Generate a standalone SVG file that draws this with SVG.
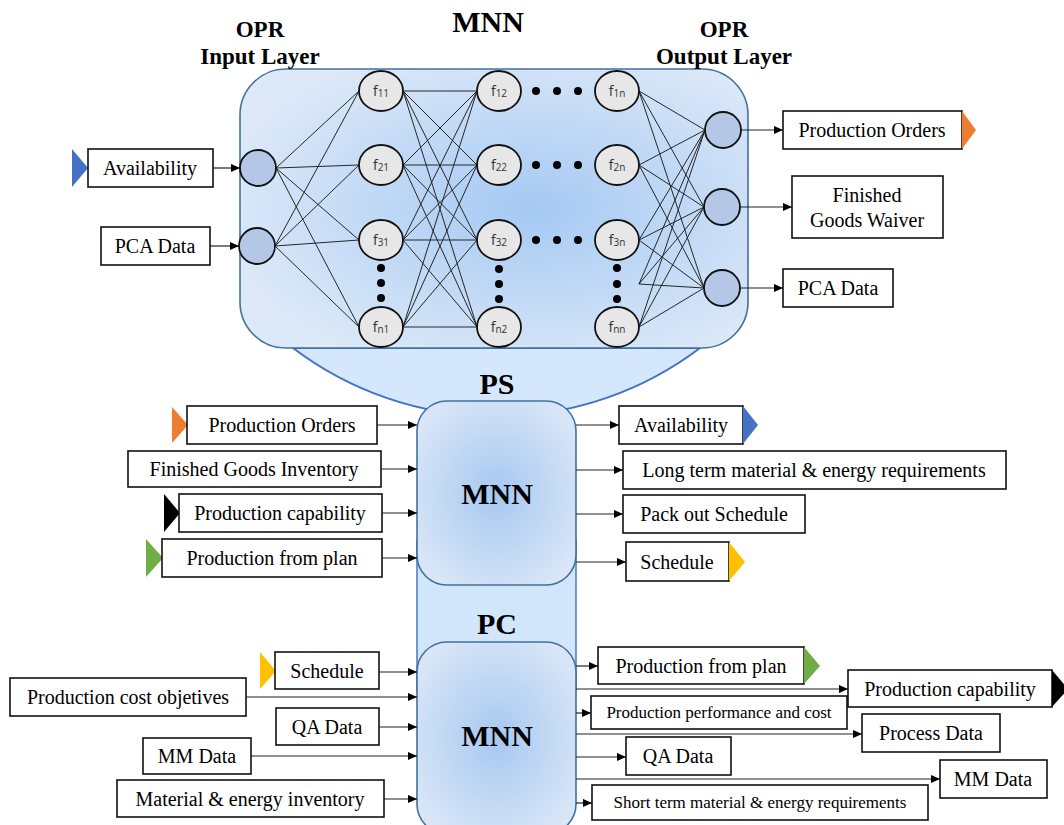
<svg xmlns="http://www.w3.org/2000/svg" width="1064" height="825" viewBox="0 0 1064 825">
  <defs>
    <style>
      .title { font-family: "Liberation Serif", "Times New Roman", serif; font-weight: bold; fill: #000; text-anchor: middle; }
      .lbl { font-family: "Liberation Serif", "Times New Roman", serif; font-size: 20px; fill: #000; text-anchor: middle; }
      .lbl-s { font-family: "Liberation Serif", "Times New Roman", serif; font-size: 17px; fill: #000; text-anchor: middle; }
      .box { fill: #fff; stroke: #111; stroke-width: 1.6; }
      .neuron { fill: #e7e7e7; stroke: #111; stroke-width: 1.8; }
      .io { fill: #b4c7e7; stroke: #111; stroke-width: 1.8; }
      .fl { font-family: "Open Sans", "Liberation Sans", sans-serif; font-size: 14px; fill: #333; text-anchor: middle; }
      .sub { font-size: 10px; }
      .dot { fill: #000; }
      .net line { stroke: #262626; stroke-width: 1; }
      .flow line { stroke: #222; stroke-width: 1.2; marker-end: url(#arr); }
    </style>
    <radialGradient id="gTop" cx="0.57" cy="0.5" r="0.62">
      <stop offset="0" stop-color="#a5c9f3"/>
      <stop offset="1" stop-color="#dde9f8"/>
    </radialGradient>
    <radialGradient id="gBox" cx="0.5" cy="0.5" r="0.6">
      <stop offset="0" stop-color="#a6c8f1"/>
      <stop offset="1" stop-color="#d9e6f7"/>
    </radialGradient>
    <marker id="arr" viewBox="0 0 10 10" refX="10" refY="5" markerWidth="9" markerHeight="9" markerUnits="userSpaceOnUse" orient="auto">
      <path d="M0,0.5 L10,5 L0,9.5 z" fill="#000"/>
    </marker>
  </defs>

  <rect width="1064" height="825" fill="#fff"/>

  <!-- container shapes -->
  <g id="containers">
    <path id="ps-bowl" d="M293,348 A337,337 0 0 0 700,348 Z" fill="#d4e7fc" stroke="#4472c4" stroke-width="2"/>
    <rect id="ps-pc-link" x="417" y="540" width="159" height="150" fill="#d2e6fb" stroke="#4a78c2" stroke-width="1.5"/>
    <rect id="opr-frame" x="240" y="69" width="508" height="279" rx="46" ry="46" fill="url(#gTop)" stroke="#41719c" stroke-width="1.6"/>
  </g>

  <!-- titles -->
  <g id="titles">
    <text class="title" x="260" y="37" font-size="23">OPR</text>
    <text class="title" x="260" y="64" font-size="23">Input Layer</text>
    <text class="title" x="488" y="32" font-size="30">MNN</text>
    <text class="title" x="724" y="37" font-size="23">OPR</text>
    <text class="title" x="724" y="64" font-size="23">Output Layer</text>
    <text class="title" x="497" y="394" font-size="30">PS</text>
    <text class="title" x="497" y="634" font-size="30">PC</text>
  </g>

  <!-- scheduling and control blocks -->
  <g id="ps-block">
    <rect x="417" y="401" width="159" height="184" rx="30" ry="30" fill="url(#gBox)" stroke="#41719c" stroke-width="1.6"/>
    <text class="title" x="497" y="504" font-size="30">MNN</text>
  </g>
  <g id="pc-block">
    <rect x="417" y="642" width="159" height="192" rx="30" ry="30" fill="url(#gBox)" stroke="#41719c" stroke-width="1.6"/>
    <text class="title" x="497" y="746" font-size="30">MNN</text>
  </g>

  <!-- connectors -->
  <g id="connectors">
    <g class="net">
      <!-- input layer to first hidden column -->
      <line x1="276" y1="168" x2="359" y2="91"/>
      <line x1="276" y1="168" x2="359" y2="165"/>
      <line x1="276" y1="168" x2="359" y2="240"/>
      <line x1="276" y1="168" x2="359" y2="327"/>
      <line x1="275" y1="246" x2="359" y2="91"/>
      <line x1="275" y1="246" x2="359" y2="165"/>
      <line x1="275" y1="246" x2="359" y2="240"/>
      <line x1="275" y1="246" x2="359" y2="327"/>
      <!-- first hidden column to second -->
      <line x1="403" y1="91" x2="477" y2="91"/>
      <line x1="403" y1="91" x2="477" y2="165"/>
      <line x1="403" y1="91" x2="477" y2="240"/>
      <line x1="403" y1="91" x2="477" y2="327"/>
      <line x1="403" y1="165" x2="477" y2="91"/>
      <line x1="403" y1="165" x2="477" y2="165"/>
      <line x1="403" y1="165" x2="477" y2="240"/>
      <line x1="403" y1="165" x2="477" y2="327"/>
      <line x1="403" y1="240" x2="477" y2="91"/>
      <line x1="403" y1="240" x2="477" y2="165"/>
      <line x1="403" y1="240" x2="477" y2="240"/>
      <line x1="403" y1="240" x2="477" y2="327"/>
      <line x1="403" y1="327" x2="477" y2="91"/>
      <line x1="403" y1="327" x2="477" y2="165"/>
      <line x1="403" y1="327" x2="477" y2="240"/>
      <line x1="403" y1="327" x2="477" y2="327"/>
      <!-- last hidden column to output layer -->
      <line x1="639" y1="91" x2="705" y2="130"/>
      <line x1="639" y1="91" x2="704" y2="207"/>
      <line x1="639" y1="91" x2="704" y2="288"/>
      <line x1="639" y1="165" x2="705" y2="130"/>
      <line x1="639" y1="165" x2="704" y2="207"/>
      <line x1="639" y1="165" x2="704" y2="288"/>
      <line x1="639" y1="240" x2="705" y2="130"/>
      <line x1="639" y1="240" x2="704" y2="207"/>
      <line x1="639" y1="240" x2="704" y2="288"/>
      <line x1="639" y1="284" x2="705" y2="130"/>
      <line x1="639" y1="284" x2="704" y2="207"/>
      <line x1="639" y1="284" x2="704" y2="288"/>
      <line x1="639" y1="327" x2="705" y2="130"/>
      <line x1="639" y1="327" x2="704" y2="207"/>
      <line x1="639" y1="327" x2="704" y2="288"/>
    </g>
    <g class="flow">
      <!-- OPR inputs / outputs -->
      <line x1="213" y1="168" x2="240" y2="168"/>
      <line x1="210" y1="246" x2="239" y2="246"/>
      <line x1="741" y1="130" x2="783" y2="130"/>
      <line x1="740" y1="207" x2="792" y2="207"/>
      <line x1="740" y1="288" x2="783" y2="288"/>
      <!-- PS inputs -->
      <line x1="377" y1="425" x2="417" y2="425"/>
      <line x1="381" y1="469" x2="417" y2="469"/>
      <line x1="382" y1="513" x2="417" y2="513"/>
      <line x1="382" y1="558" x2="417" y2="558"/>
      <!-- PS outputs -->
      <line x1="576" y1="425" x2="619" y2="425"/>
      <line x1="576" y1="470" x2="623" y2="470"/>
      <line x1="576" y1="514" x2="623" y2="514"/>
      <line x1="576" y1="562" x2="626" y2="562"/>
      <!-- PC inputs -->
      <line x1="379" y1="672" x2="417" y2="672"/>
      <line x1="246" y1="697" x2="417" y2="697"/>
      <line x1="379" y1="727" x2="417" y2="727"/>
      <line x1="251" y1="756" x2="417" y2="756"/>
      <line x1="384" y1="799" x2="417" y2="799"/>
      <!-- PC outputs -->
      <line x1="576" y1="666" x2="598" y2="666"/>
      <line x1="576" y1="689" x2="848" y2="689"/>
      <line x1="576" y1="713" x2="591" y2="713"/>
      <line x1="576" y1="734" x2="862" y2="734"/>
      <line x1="576" y1="757" x2="626" y2="757"/>
      <line x1="576" y1="779" x2="940" y2="779"/>
      <line x1="576" y1="803" x2="592" y2="803"/>
    </g>
  </g>

  <!-- network neurons -->
  <g id="in-1"><circle class="io" cx="258" cy="168" r="18"/></g>
  <g id="in-2"><circle class="io" cx="257" cy="246" r="18"/></g>

  <g id="f11"><ellipse class="neuron" cx="381" cy="91" rx="22" ry="20"/><text class="fl" x="381" y="96">f<tspan class="sub" dy="1">11</tspan></text></g>
  <g id="f21"><ellipse class="neuron" cx="381" cy="165" rx="22" ry="20"/><text class="fl" x="381" y="170">f<tspan class="sub" dy="1">21</tspan></text></g>
  <g id="f31"><ellipse class="neuron" cx="381" cy="240" rx="22" ry="20"/><text class="fl" x="381" y="245">f<tspan class="sub" dy="1">31</tspan></text></g>
  <g id="fn1"><ellipse class="neuron" cx="381" cy="327" rx="22" ry="20"/><text class="fl" x="381" y="332">f<tspan class="sub" dy="1">n1</tspan></text></g>

  <g id="f12"><ellipse class="neuron" cx="499" cy="91" rx="22" ry="20"/><text class="fl" x="499" y="96">f<tspan class="sub" dy="1">12</tspan></text></g>
  <g id="f22"><ellipse class="neuron" cx="499" cy="165" rx="22" ry="20"/><text class="fl" x="499" y="170">f<tspan class="sub" dy="1">22</tspan></text></g>
  <g id="f32"><ellipse class="neuron" cx="499" cy="240" rx="22" ry="20"/><text class="fl" x="499" y="245">f<tspan class="sub" dy="1">32</tspan></text></g>
  <g id="fn2"><ellipse class="neuron" cx="499" cy="327" rx="22" ry="20"/><text class="fl" x="499" y="332">f<tspan class="sub" dy="1">n2</tspan></text></g>

  <g id="f1n"><ellipse class="neuron" cx="617" cy="91" rx="22" ry="20"/><text class="fl" x="617" y="96">f<tspan class="sub" dy="1">1n</tspan></text></g>
  <g id="f2n"><ellipse class="neuron" cx="617" cy="165" rx="22" ry="20"/><text class="fl" x="617" y="170">f<tspan class="sub" dy="1">2n</tspan></text></g>
  <g id="f3n"><ellipse class="neuron" cx="617" cy="240" rx="22" ry="20"/><text class="fl" x="617" y="245">f<tspan class="sub" dy="1">3n</tspan></text></g>
  <g id="fnn"><ellipse class="neuron" cx="617" cy="327" rx="22" ry="20"/><text class="fl" x="617" y="332">f<tspan class="sub" dy="1">nn</tspan></text></g>

  <g id="out-1"><circle class="io" cx="723" cy="130" r="18"/></g>
  <g id="out-2"><circle class="io" cx="722" cy="207" r="18"/></g>
  <g id="out-3"><circle class="io" cx="722" cy="288" r="18"/></g>

  <!-- ellipsis dots -->
  <g id="ellipsis-dots" class="dot">
    <circle cx="536" cy="91" r="4"/><circle cx="557" cy="91" r="4"/><circle cx="578" cy="91" r="4"/>
    <circle cx="536" cy="165" r="4"/><circle cx="557" cy="165" r="4"/><circle cx="578" cy="165" r="4"/>
    <circle cx="536" cy="240" r="4"/><circle cx="557" cy="240" r="4"/><circle cx="578" cy="240" r="4"/>
    <circle cx="381" cy="268" r="4"/><circle cx="381" cy="283" r="4"/><circle cx="381" cy="298" r="4"/>
    <circle cx="499" cy="269" r="4"/><circle cx="499" cy="284" r="4"/><circle cx="499" cy="299" r="4"/>
    <circle cx="617" cy="268" r="4"/><circle cx="617" cy="284" r="4"/><circle cx="617" cy="299" r="4"/>
  </g>

  <!-- OPR inputs -->
  <g id="opr-in-availability">
    <polygon points="72,149 88,168 72,187" fill="#4472c4"/>
    <rect class="box" x="88" y="149" width="125" height="38"/>
    <text class="lbl" x="150" y="175">Availability</text>
  </g>
  <g id="opr-in-pca">
    <rect class="box" x="101" y="227" width="109" height="38"/>
    <text class="lbl" x="155" y="253">PCA Data</text>
  </g>

  <!-- OPR outputs -->
  <g id="opr-out-orders">
    <rect class="box" x="783" y="111" width="179" height="38"/>
    <polygon points="962,111 976,130 962,149" fill="#ed7d31"/>
    <text class="lbl" x="872" y="137">Production Orders</text>
  </g>
  <g id="opr-out-waiver">
    <rect class="box" x="792" y="176" width="151" height="62"/>
    <text class="lbl" x="867" y="202">Finished</text>
    <text class="lbl" x="867" y="227">Goods Waiver</text>
  </g>
  <g id="opr-out-pca">
    <rect class="box" x="783" y="269" width="110" height="38"/>
    <text class="lbl" x="838" y="295">PCA Data</text>
  </g>

  <!-- PS inputs -->
  <g id="ps-in-orders">
    <polygon points="172,407 188,425 172,443" fill="#ed7d31"/>
    <rect class="box" x="187" y="406" width="190" height="38"/>
    <text class="lbl" x="282" y="432">Production Orders</text>
  </g>
  <g id="ps-in-fg-inventory">
    <rect class="box" x="128" y="451" width="253" height="36"/>
    <text class="lbl" x="254" y="476">Finished Goods Inventory</text>
  </g>
  <g id="ps-in-capability">
    <polygon points="164,494 180,513 164,532" fill="#000"/>
    <rect class="box" x="179" y="494" width="203" height="38"/>
    <text class="lbl" x="280" y="520">Production capability</text>
  </g>
  <g id="ps-in-plan">
    <polygon points="146,539 163,558 146,577" fill="#70ad47"/>
    <rect class="box" x="162" y="539" width="220" height="38"/>
    <text class="lbl" x="272" y="565">Production from plan</text>
  </g>

  <!-- PS outputs -->
  <g id="ps-out-availability">
    <rect class="box" x="619" y="406" width="124" height="38"/>
    <polygon points="743,406 758,425 743,444" fill="#4472c4"/>
    <text class="lbl" x="681" y="432">Availability</text>
  </g>
  <g id="ps-out-long-term">
    <rect class="box" x="623" y="451" width="383" height="38"/>
    <text class="lbl" x="814" y="477">Long term material &amp; energy requirements</text>
  </g>
  <g id="ps-out-packout">
    <rect class="box" x="623" y="495" width="182" height="38"/>
    <text class="lbl" x="714" y="521">Pack out Schedule</text>
  </g>
  <g id="ps-out-schedule">
    <rect class="box" x="626" y="542" width="103" height="39"/>
    <polygon points="729,542 745,562 729,581" fill="#ffc000"/>
    <text class="lbl" x="677" y="569">Schedule</text>
  </g>

  <!-- PC inputs -->
  <g id="pc-in-schedule">
    <polygon points="260,652 276,671 260,689" fill="#ffc000"/>
    <rect class="box" x="275" y="652" width="104" height="37"/>
    <text class="lbl" x="327" y="678">Schedule</text>
  </g>
  <g id="pc-in-cost">
    <rect class="box" x="10" y="678" width="236" height="38"/>
    <text class="lbl" x="128" y="704">Production cost objetives</text>
  </g>
  <g id="pc-in-qa">
    <rect class="box" x="276" y="708" width="103" height="37"/>
    <text class="lbl" x="327" y="734">QA Data</text>
  </g>
  <g id="pc-in-mm">
    <rect class="box" x="143" y="738" width="108" height="36"/>
    <text class="lbl" x="197" y="763">MM Data</text>
  </g>
  <g id="pc-in-inventory">
    <rect class="box" x="117" y="780" width="267" height="37"/>
    <text class="lbl" x="250" y="806">Material &amp; energy inventory</text>
  </g>

  <!-- PC outputs -->
  <g id="pc-out-plan">
    <rect class="box" x="598" y="647" width="206" height="37"/>
    <polygon points="804,647 820,666 804,684" fill="#70ad47"/>
    <text class="lbl" x="701" y="673">Production from plan</text>
  </g>
  <g id="pc-out-capability">
    <rect class="box" x="848" y="670" width="204" height="37"/>
    <polygon points="1052,670 1068,689 1052,707" fill="#000"/>
    <text class="lbl" x="950" y="696">Production capability</text>
  </g>
  <g id="pc-out-performance">
    <rect class="box" x="591" y="696" width="256" height="33"/>
    <text class="lbl-s" x="719" y="718">Production performance and cost</text>
  </g>
  <g id="pc-out-process">
    <rect class="box" x="862" y="714" width="138" height="38"/>
    <text class="lbl" x="931" y="740">Process Data</text>
  </g>
  <g id="pc-out-qa">
    <rect class="box" x="626" y="737" width="105" height="38"/>
    <text class="lbl" x="678" y="763">QA Data</text>
  </g>
  <g id="pc-out-mm">
    <rect class="box" x="940" y="760" width="107" height="38"/>
    <text class="lbl" x="993" y="786">MM Data</text>
  </g>
  <g id="pc-out-short-term">
    <rect class="box" x="592" y="785" width="336" height="35"/>
    <text class="lbl-s" x="760" y="808">Short term material &amp; energy requirements</text>
  </g>
</svg>
